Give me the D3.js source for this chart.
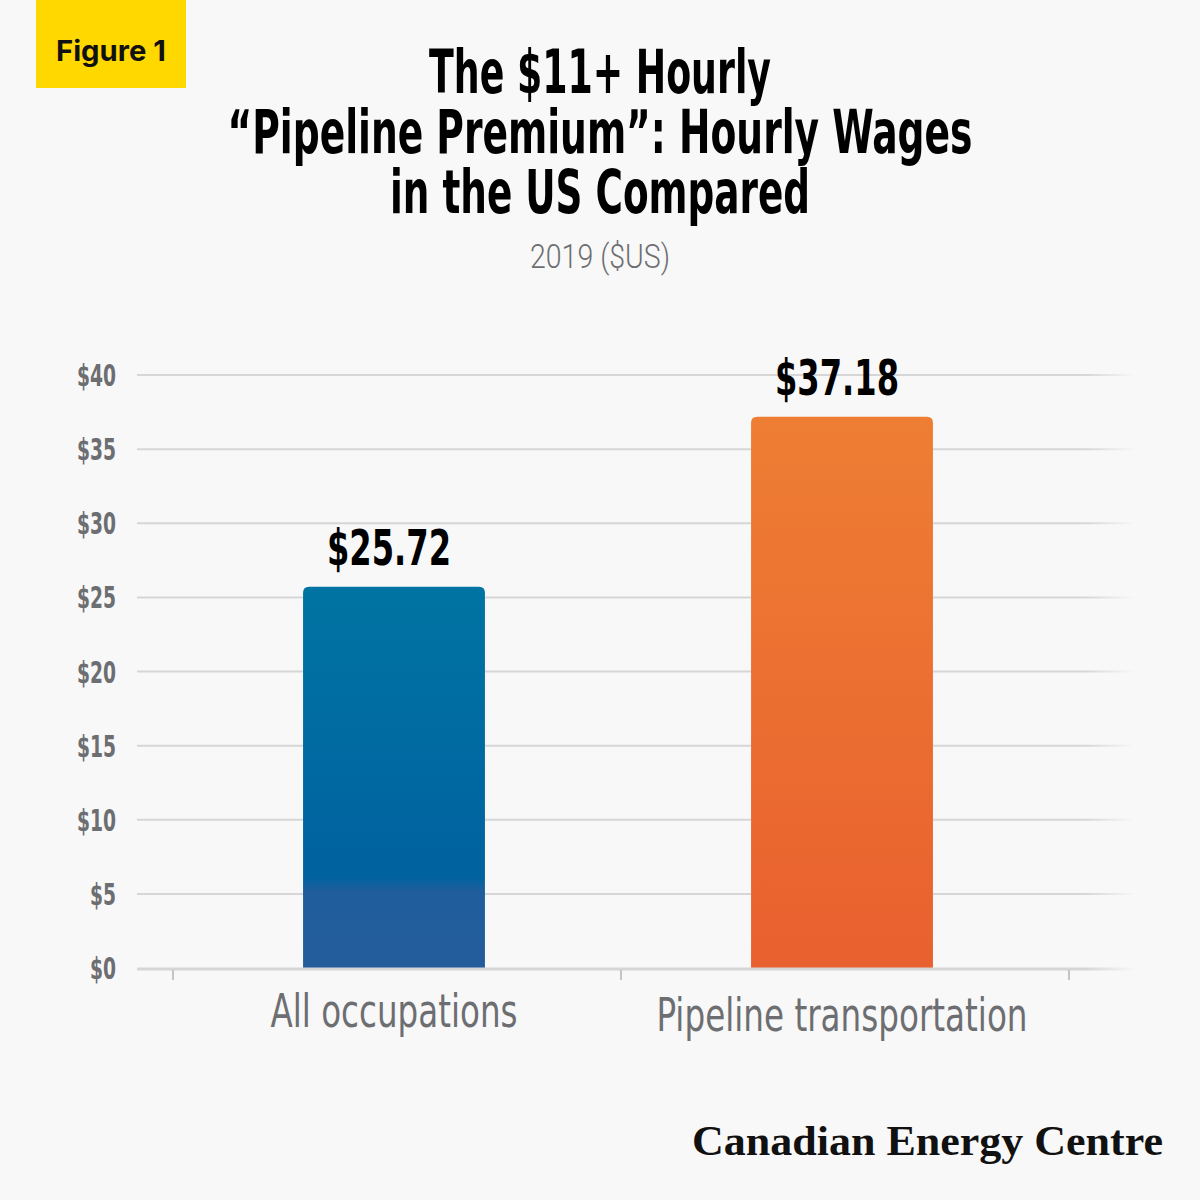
<!DOCTYPE html>
<html>
<head>
<meta charset="utf-8">
<title>Pipeline Premium</title>
<script src="https://cdn.jsdelivr.net/npm/d3@7"></script>
<style>
  body { margin: 0; background: #f8f8f8; }
  .cond { font-family: "Liberation Sans Narrow", "DejaVu Sans Condensed", "Roboto", sans-serif; }
</style>
</head>
<body>
<svg id="chart"></svg>
<script>
// data
const categories = ["All occupations", "Pipeline transportation"];
const wages = [25.72, 37.18];
const valueLabels = ["$25.72", "$37.18"];
const yTicks = [0, 5, 10, 15, 20, 25, 30, 35, 40];
const titleLines = ["The $11+ Hourly", "\u201cPipeline Premium\u201d: Hourly Wages", "in the US Compared"];
const subtitle = "2019 ($US)";
const badge = "Figure 1";
const source = "Canadian Energy Centre";

const W = 1200, H = 1200;
const svg = d3.select("#chart").attr("width", W).attr("height", H);

svg.append("rect").attr("width", W).attr("height", H).attr("fill", "#f8f8f8");

const defs = svg.append("defs");
const blue = defs.append("linearGradient").attr("id", "blueGrad")
  .attr("x1", 0).attr("y1", 0).attr("x2", 0).attr("y2", 1);
[[0, "#0074a2"], [0.76, "#0062a0"], [0.8, "#1f5d9c"], [1, "#245c9b"]]
  .forEach(s => blue.append("stop").attr("offset", s[0]).attr("stop-color", s[1]));
const orange = defs.append("linearGradient").attr("id", "orangeGrad")
  .attr("x1", 0).attr("y1", 0).attr("x2", 0).attr("y2", 1);
[[0, "#ee7e33"], [1, "#e9602f"]]
  .forEach(s => orange.append("stop").attr("offset", s[0]).attr("stop-color", s[1]));
const fade = defs.append("linearGradient").attr("id", "fadeGrad")
  .attr("gradientUnits", "userSpaceOnUse").attr("x1", 137).attr("x2", 1135).attr("y1", 0).attr("y2", 0);
[[0, 1], [0.95, 1], [1, 0]]
  .forEach(s => fade.append("stop").attr("offset", s[0]).attr("stop-color", "#d6d6d6").attr("stop-opacity", s[1]));
const fills = ["url(#blueGrad)", "url(#orangeGrad)"];

// badge
svg.append("rect").attr("x", 36).attr("y", 0).attr("width", 150).attr("height", 88).attr("fill", "#ffd800");
svg.append("text").attr("x", 111).attr("y", 61).attr("text-anchor", "middle")
  .attr("font-family", "Inter, Roboto, sans-serif").attr("font-weight", 700).attr("font-size", 29)
  .attr("textLength", 110).attr("lengthAdjust", "spacingAndGlyphs")
  .attr("fill", "#111").text(badge);

// title
const titleWidths = [342, 745, 420];
svg.selectAll(".title").data(titleLines).join("text")
  .attr("class", "title cond")
  .attr("x", 600).attr("y", (d, i) => 93 + i * 60)
  .attr("text-anchor", "middle").attr("font-weight", 700).attr("font-size", 60)
  .attr("textLength", (d, i) => titleWidths[i]).attr("lengthAdjust", "spacingAndGlyphs")
  .attr("fill", "#000").text(d => d);

svg.append("text")
  .attr("x", 600).attr("y", 268).attr("text-anchor", "middle")
  .attr("font-family", "Roboto, sans-serif").attr("font-weight", 300).attr("font-size", 34)
  .attr("textLength", 140).attr("lengthAdjust", "spacingAndGlyphs")
  .attr("fill", "#6d6e71").text(subtitle);

// scales
const y = d3.scaleLinear().domain([0, 40]).range([968, 375]);
const x = d3.scaleBand().domain(categories).range([173, 1069]);
const barW = x.bandwidth() * 0.406;

// grid
svg.append("g").selectAll("line").data(yTicks.filter(t => t > 0)).join("line")
  .attr("x1", 137).attr("x2", 1135)
  .attr("y1", d => y(d)).attr("y2", d => y(d))
  .attr("stroke", "url(#fadeGrad)").attr("stroke-width", 2);

// y labels
svg.append("g").selectAll("text").data(yTicks).join("text")
  .attr("class", "cond")
  .attr("x", 116).attr("y", d => y(d) + 11)
  .attr("text-anchor", "end").attr("font-weight", 700).attr("font-size", 31)
  .attr("textLength", d => ("$" + d).length * 13).attr("lengthAdjust", "spacingAndGlyphs")
  .attr("fill", "#6d6e71").text(d => "$" + d);

// bars with rounded top corners
function barPath(d, i) {
  const x0 = x(categories[i]) + (x.bandwidth() - barW) / 2 - 3;
  const x1 = x0 + barW, y0 = y(d), yb = y(0), r = 6;
  return `M${x0},${yb}V${y0 + r}Q${x0},${y0} ${x0 + r},${y0}H${x1 - r}Q${x1},${y0} ${x1},${y0 + r}V${yb}Z`;
}
svg.append("g").selectAll("path").data(wages).join("path")
  .attr("d", barPath).attr("fill", (d, i) => fills[i]);

// value labels
svg.append("g").selectAll("text").data(wages).join("text")
  .attr("class", "cond")
  .attr("x", (d, i) => x(categories[i]) + x.bandwidth() / 2 - 8)
  .attr("y", d => y(d) - 22)
  .attr("text-anchor", "middle").attr("font-weight", 700).attr("font-size", 49)
  .attr("textLength", 124).attr("lengthAdjust", "spacingAndGlyphs")
  .attr("fill", "#000").text((d, i) => valueLabels[i]);

// baseline and ticks
svg.append("line").attr("x1", 137).attr("x2", 1135).attr("y1", y(0) + 1).attr("y2", y(0) + 1)
  .attr("stroke", "url(#fadeGrad)").attr("stroke-width", 3);
const tickXs = categories.map(c => x(c)).concat([x(categories[categories.length - 1]) + x.bandwidth()]);
svg.append("g").selectAll("line").data(tickXs).join("line")
  .attr("x1", d => d).attr("x2", d => d).attr("y1", y(0) + 2).attr("y2", y(0) + 12)
  .attr("stroke", "#c4c4c4").attr("stroke-width", 2);

// category labels
const catWidths = [247, 371];
svg.append("g").selectAll("text").data(categories).join("text")
  .attr("class", "cond")
  .attr("x", d => x(d) + x.bandwidth() / 2 - 3)
  .attr("y", (d, i) => 1027 + i * 4)
  .attr("text-anchor", "middle").attr("font-size", 47)
  .attr("textLength", (d, i) => catWidths[i]).attr("lengthAdjust", "spacingAndGlyphs")
  .attr("fill", "#6d6e71").text(d => d);

// source
svg.append("text").attr("x", 1163).attr("y", 1155).attr("text-anchor", "end")
  .attr("font-family", "'Liberation Serif', 'DejaVu Serif', serif").attr("font-weight", 700).attr("font-size", 42)
  .attr("textLength", 471).attr("lengthAdjust", "spacingAndGlyphs")
  .attr("fill", "#111").text(source);
</script>
</body>
</html>
